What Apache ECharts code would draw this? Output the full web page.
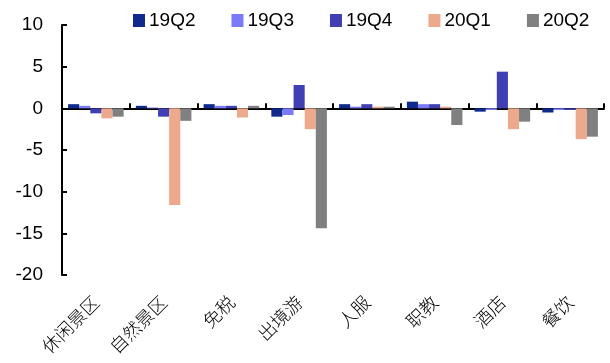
<!DOCTYPE html>
<html><head><meta charset="utf-8">
<script src="https://cdn.jsdelivr.net/npm/echarts@6/dist/echarts.min.js"></script>
<style>html,body{margin:0;padding:0;background:#fff}#c{width:610px;height:363px}</style>
</head><body><div id="c"></div>
<script>
const categories = ['休闲景区','自然景区','免税','出境游','人服','职教','酒店','餐饮'];
const seriesNames = ['19Q2','19Q3','19Q4','20Q1','20Q2'];
const s19Q2 = [0.5, 0.3, 0.5, -1.0, 0.5, 0.8, -0.4, -0.5];
const s19Q3 = [0.3, 0.1, 0.3, -0.8, 0.2, 0.5, -0.2, -0.2];
const s19Q4 = [-0.6, -1.0, 0.3, 2.8, 0.5, 0.5, 4.4, -0.2];
const s20Q1 = [-1.2, -11.6, -1.1, -2.5, 0.2, 0.2, -2.5, -3.7];
const s20Q2 = [-1.0, -1.5, 0.3, -14.4, 0.2, -2.0, -1.6, -3.4];
const yTicks = [-20, -15, -10, -5, 0, 5, 10];
const colors = ['#0F2A8C', '#7B7BFA', '#4040B4', '#EDA98B', '#808080'];
const allData = [s19Q2, s19Q3, s19Q4, s20Q1, s20Q2];

const chart = echarts.init(document.getElementById('c'), null, {renderer: 'canvas'});
chart.setOption({
  animation: false,
  color: colors,
  textStyle: {fontFamily: 'Liberation Sans, Arial, sans-serif'},
  legend: {
    top: 6, left: 128, itemGap: 36, icon: 'rect', itemWidth: 12, itemHeight: 13,
    textStyle: {fontSize: 19, color: '#000', fontFamily: 'Liberation Sans', padding: [0, 0, 0, -1]},
    data: seriesNames
  },
  grid: {left: 62, right: 6, top: 25, bottom: 88, containLabel: false},
  xAxis: [
    {type: 'category', data: categories, axisLine: {onZero: true, lineStyle: {color: '#000', width: 2}},
     axisTick: {show: true, inside: true, length: 5, lineStyle: {color: '#000', width: 2}},
     axisLabel: {show: false}},
    {type: 'category', data: categories, position: 'bottom', axisLine: {show: false}, axisTick: {show: false},
     axisLabel: {rotate: 45, margin: 24, fontSize: 18, color: '#000', fontFamily: 'Noto Sans CJK SC', fontWeight: 300}}
  ],
  yAxis: {
    type: 'value', min: yTicks[0], max: yTicks[yTicks.length-1], interval: 5,
    axisLine: {show: true, lineStyle: {color: '#000', width: 2}},
    axisTick: {show: true, inside: true, length: 5, lineStyle: {color: '#000', width: 2}},
    splitLine: {show: false},
    axisLabel: {fontSize: 19, color: '#000', margin: 19, fontFamily: 'Liberation Sans'}
  },
  series: seriesNames.map((n, i) => ({
    name: n, type: 'bar', xAxisIndex: 0, data: allData[i],
    barGap: '0%', barCategoryGap: '18%'
  }))
});
</script></body></html>
